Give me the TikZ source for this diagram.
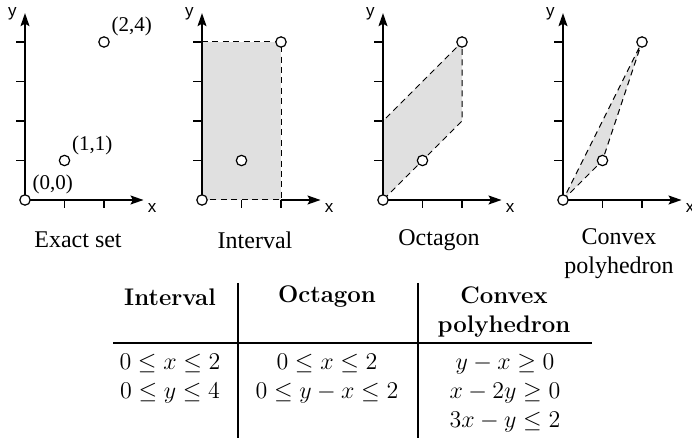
\documentclass[tikz,border=0pt]{standalone}
\usepackage{fontspec}
\newfontfamily\timesf{Liberation Serif}
\newfontfamily\helvf{Liberation Sans}
\usetikzlibrary{arrows.meta}
\definecolor{regiongray}{gray}{0.88}
\tikzset{
  ax/.style={line width=0.65pt, -{Stealth[length=6.5pt,width=4.5pt,inset=1.2pt]}},
  tk/.style={line width=0.6pt},
  ptc/.style={circle, draw, fill=white, line width=0.6pt, minimum size=5.2pt, inner sep=0pt},
  dsh/.style={draw, dash pattern=on 3pt off 2.2pt, line width=0.5pt},
  axlab/.style={font=\helvf\fontsize{8.5}{9}\selectfont, inner sep=0pt},
  captxt/.style={font=\timesf\fontsize{12}{14.5}\selectfont, align=center, inner sep=0pt},
  ptlab/.style={font=\timesf\fontsize{10.5}{12}\selectfont, inner sep=0pt, anchor=south west},
  tbl/.style={font=\fontsize{12}{14.5}\selectfont, align=center, inner sep=0pt},
  hd/.style={font=\bfseries\fontsize{12}{14.5}\selectfont, align=center, inner sep=0pt},
  tabrule/.style={line width=1.2pt}
}
\newcommand\plotframe[1]{%
  \coordinate (o#1) at (0,0);
  \coordinate (ye#1) at (0,4.73);
  \coordinate (xe#1) at (3.0,0);
  \draw[ax] (o#1) -- (ye#1);
  \foreach \i in {1,2} \draw[tk] (\i,0) -- ++(0,-0.2);
  \foreach \j in {1,...,4} \draw[tk] (0,\j) -- ++(-0.23,0);
  \node[axlab] (xl#1) at (3.22,-0.2) {x};
  \node[axlab] (yl#1) at (-0.32,4.72) {y};
}
\begin{document}
\begin{tikzpicture}[x=0.5pt,y=-0.5pt]
\useasboundingbox (0,0) rectangle (692,438);

% ---- Plot 1: exact set
\begin{scope}[shift={(25,200)}, x=19.75pt, y=19.75pt]
  \plotframe{1}
  \draw[ax] (o1) -- (xe1);
  \node[ptc] (a1) at (0,0) {};
  \node[ptc] (b1) at (1,1) {};
  \node[ptc] (c1) at (2,4) {};
  \node[ptlab] (la1) at (0.18,0.13) {(0,0)};
  \node[ptlab] (lb1) at (1.18,1.13) {(1,1)};
  \node[ptlab] (lc1) at (2.18,4.13) {(2,4)};
\end{scope}

% ---- Plot 2: interval
\begin{scope}[shift={(202,200)}, x=19.75pt, y=19.75pt]
  \fill[regiongray] (0,0) rectangle (2,4);
  \plotframe{2}
  \coordinate (r2a) at (0,4);
  \coordinate (r2b) at (2,4);
  \coordinate (r2c) at (2,0);
  \draw[ax] (r2c) -- (xe2);
  \draw[dsh] (r2a) -- (r2b) -- (r2c) -- (o2);
  \node[ptc] (a2) at (0,0) {};
  \node[ptc] (b2) at (1,1) {};
  \node[ptc] (c2) at (2,4) {};
\end{scope}

% ---- Plot 3: octagon
\begin{scope}[shift={(383,200)}, x=19.75pt, y=19.75pt]
  \fill[regiongray] (0,0) -- (0,2) -- (2,4) -- (2,2) -- cycle;
  \plotframe{3}
  \draw[ax] (o3) -- (xe3);
  \coordinate (q3a) at (0,2);
  \coordinate (q3b) at (2,2);
  \coordinate (q3c) at (2,4);
  \draw[dsh] (o3) -- (q3a) -- (q3c) -- (q3b) -- (o3);
  \node[ptc] (a3) at (0,0) {};
  \node[ptc] (b3) at (1,1) {};
  \node[ptc] (c3) at (2,4) {};
\end{scope}

% ---- Plot 4: convex polyhedron
\begin{scope}[shift={(563,200)}, x=19.75pt, y=19.75pt]
  \fill[regiongray] (0,0) -- (1,1) -- (2,4) -- cycle;
  \plotframe{4}
  \draw[ax] (o4) -- (xe4);
  \coordinate (t4b) at (1,1);
  \coordinate (t4c) at (2,4);
  \draw[dsh] (o4) -- (t4b) -- (t4c) -- cycle;
  \node[ptc] (a4) at (0,0) {};
  \node[ptc] (b4) at (1,1) {};
  \node[ptc] (c4) at (2,4) {};
\end{scope}

% ---- captions
\node[captxt] (cap1) at (78,240) {Exact set};
\node[captxt] (cap2) at (255,240) {Interval};
\node[captxt] (cap3) at (439,240) {Octagon};
\node[captxt] (cap4) at (619,254) {Convex\\polyhedron};

% ---- table
\coordinate (v1t) at (238,283);
\coordinate (v1b) at (238,438);
\coordinate (v2t) at (418,283);
\coordinate (v2b) at (418,438);
\coordinate (hl) at (113,343);
\coordinate (hr) at (592,343);
\draw[tabrule] (v1t) -- (v1b);
\draw[tabrule] (v2t) -- (v2b);
\draw[tabrule] (hl) -- (hr);

\node[hd] (h1) at (170,297) {Interval};
\node[hd] (h2) at (327,297) {Octagon};
\node[hd] (h3) at (504,312) {Convex\\polyhedron};

\node[tbl] (b1c) at (170,379) {$0\le x\le 2$\\$0\le y\le 4$};
\node[tbl] (b2c) at (327,379) {$0\le x\le 2$\\$0\le y-x\le 2$};
\node[tbl] (b3c) at (505,393) {$y-x\ge 0$\\$x-2y\ge 0$\\$3x-y\le 2$};
\end{tikzpicture}
\end{document}
